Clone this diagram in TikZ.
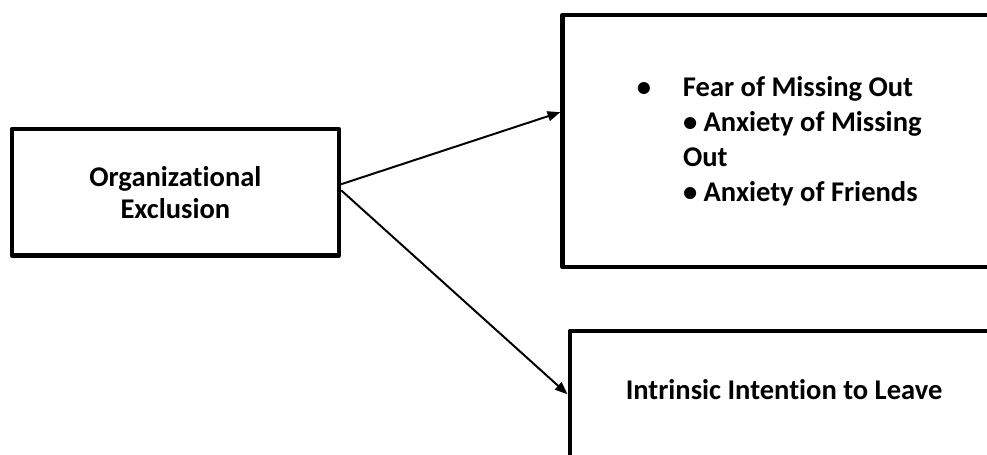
\documentclass[tikz,border=0pt]{standalone}
\usepackage{fontspec}
\setmainfont{Carlito}[Ligatures=NoCommon]
\usepackage{tikz}
\usetikzlibrary{arrows.meta,positioning,calc}

\begin{document}
\begin{tikzpicture}[
    box/.style={rectangle, draw=black, line width=3.2pt, line join=round, fill=white, font=\bfseries\fontsize{20.3pt}{22.8pt}\selectfont},
    listbox/.style={box, align=flush left, text width=6.3cm, inner xsep=3.0125cm, minimum height=6.3cm, font=\bfseries\fontsize{20.3pt}{24.9pt}\selectfont},
    arrow/.style={line width=1.4pt, -{Triangle[length=9pt,width=7pt]}}
]

% Canvas
\useasboundingbox (0,0) rectangle (24.675,11.375);
\clip (0,0) rectangle (24.675,11.375);

% Boxes
\node[box, align=center, minimum width=8.175cm, minimum height=3.1625cm] (excl) at (4.384, 6.569) {Organizational\\Exclusion};

\node[listbox] (fomo) at (20.225, 7.85) {\llap{\textbullet\hspace{0.8cm}}Fear of Missing Out\\\textbullet{} Anxiety of Missing\\Out\\\textbullet{} Anxiety of Friends};

\node[box, anchor=north west, inner xsep=1.4cm, inner ysep=1.2cm, text height=0.5cm, text depth=1.5cm] (leave) at (14.1875, 3.15) {Intrinsic Intention to Leave};

% Arrows
\draw[arrow] ([yshift=0.2cm]excl.east) -- ([yshift=0.72cm]fomo.west);
\draw[arrow] ([yshift=0.05cm]excl.east) -- ([yshift=0.625cm]leave.west);

\end{tikzpicture}
\end{document}
